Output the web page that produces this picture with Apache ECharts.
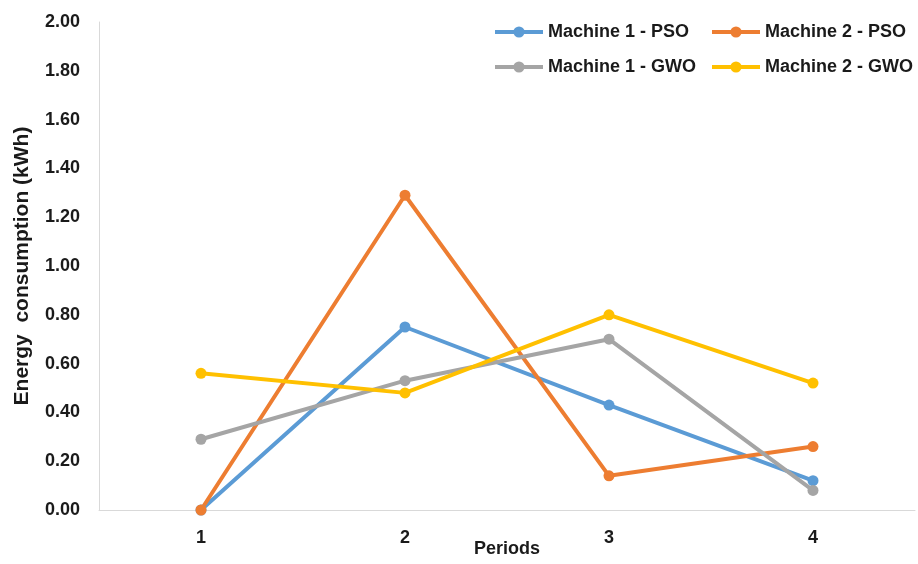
<!DOCTYPE html>
<html>
<head>
<meta charset="utf-8">
<script src="https://cdn.jsdelivr.net/npm/echarts@6/dist/echarts.min.js"></script>
<style>html,body{margin:0;padding:0;background:#fff}#c{width:918px;height:564px}</style>
</head>
<body>
<div id="c"></div>
<script>
const periods = ['1', '2', '3', '4'];
const m1PSO = [0.00, 0.75, 0.43, 0.12];
const m2PSO = [0.00, 1.29, 0.14, 0.26];
const m1GWO = [0.29, 0.53, 0.70, 0.08];
const m2GWO = [0.56, 0.48, 0.80, 0.52];
const seriesNames = ['Machine 1 - PSO', 'Machine 2 - PSO', 'Machine 1 - GWO', 'Machine 2 - GWO'];
const colors = ['#5B9BD5', '#ED7D31', '#A5A5A5', '#FFC000'];

const FONT = 'Liberation Sans';
const chart = echarts.init(document.getElementById('c'), null, {renderer: 'canvas'});
const mk = (name, data, color) => ({
  name, type: 'line', data,
  symbol: 'circle', symbolSize: 11,
  lineStyle: {width: 4, color},
  itemStyle: {color},
  emphasis: {disabled: true},
  animation: false
});
const legendCommon = {
  orient: 'vertical', itemWidth: 48, itemHeight: 14, itemGap: 17,
  lineStyle: {width: 4},
  textStyle: {fontFamily: FONT, fontWeight: 'bold', fontSize: 18, color: '#1a1a1a'}
};
chart.setOption({
  animation: false,
  color: colors,
  grid: {left: 99, right: 3, top: 22, bottom: 54, containLabel: false, outerBoundsMode: 'none'},
  legend: [
    Object.assign({left: 488, top: 18, data: [seriesNames[0], seriesNames[2]]}, legendCommon),
    Object.assign({left: 705, top: 18, data: [seriesNames[1], seriesNames[3]]}, legendCommon)
  ],
  xAxis: {
    type: 'category', data: periods, boundaryGap: true,
    name: 'Periods', nameLocation: 'middle', nameGap: 30, nameMoveOverlap: false,
    nameTextStyle: {fontFamily: FONT, fontWeight: 'bold', fontSize: 18, color: '#1a1a1a'},
    axisLine: {lineStyle: {color: '#d9d9d9', width: 1}},
    axisTick: {show: false},
    axisLabel: {fontFamily: FONT, fontWeight: 'bold', fontSize: 18, color: '#1a1a1a', margin: 19}
  },
  yAxis: {
    type: 'value', min: 0, max: 2, interval: 0.2,
    name: 'Energy  consumption (kWh)', nameLocation: 'middle', nameGap: 66, nameMoveOverlap: false,
    nameTextStyle: {fontFamily: FONT, fontWeight: 'bold', fontSize: 21, color: '#1a1a1a'},
    axisLine: {show: true, lineStyle: {color: '#d9d9d9', width: 1}},
    axisTick: {show: false},
    splitLine: {show: false},
    axisLabel: {fontFamily: FONT, fontWeight: 'bold', fontSize: 18, color: '#1a1a1a', margin: 19,
      formatter: v => v.toFixed(2)}
  },
  series: [
    mk(seriesNames[0], m1PSO, colors[0]),
    mk(seriesNames[1], m2PSO, colors[1]),
    mk(seriesNames[2], m1GWO, colors[2]),
    mk(seriesNames[3], m2GWO, colors[3])
  ]
});
</script>
</body>
</html>
